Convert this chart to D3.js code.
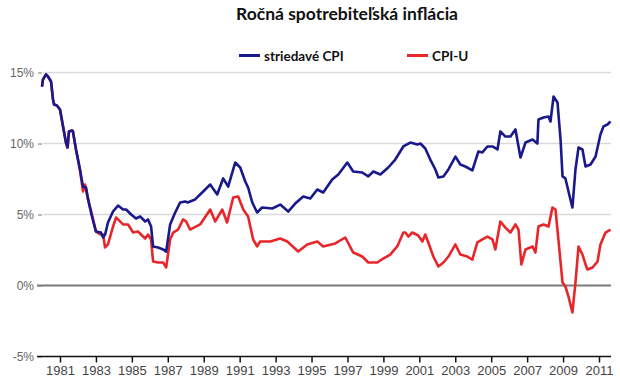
<!DOCTYPE html>
<html>
<head>
<meta charset="utf-8">
<script src="https://cdn.jsdelivr.net/npm/d3@7"></script>
<style>
html,body{margin:0;padding:0;background:#fff;}
svg{display:block;}
</style>
</head>
<body>
<svg id="chart" width="620" height="378"></svg>
<script>
// ---- data ----
const title = "Ročná spotrebiteľská inflácia";
const seriesNames = ["striedavé CPI", "CPI-U"];
const yTicks = [-5, 0, 5, 10, 15];
const xTicks = [1981, 1983, 1985, 1987, 1989, 1991, 1993, 1995, 1997, 1999, 2001, 2003, 2005, 2007, 2009, 2011];

const altYears = [1980.0,1980.05,1980.22,1980.33,1980.5,1980.61,1980.67,1980.83,1981.0,1981.17,1981.33,1981.42,1981.5,1981.67,1981.72,1981.89,1982.11,1982.28,1982.45,1982.56,1982.75,1983.0,1983.28,1983.4,1983.51,1983.67,1983.95,1984.23,1984.51,1984.68,1984.96,1985.23,1985.46,1985.74,1985.9,1986.07,1986.18,1986.46,1986.74,1986.91,1987.13,1987.41,1987.69,1987.96,1988.13,1988.24,1988.52,1988.97,1989.36,1989.75,1990.08,1990.36,1990.75,1991.03,1991.31,1991.47,1991.7,1991.97,1992.25,1992.81,1993.26,1993.7,1994.09,1994.54,1994.93,1995.32,1995.65,1996.15,1996.49,1996.99,1997.32,1997.82,1998.16,1998.44,1998.83,1999.27,1999.66,2000.11,2000.5,2000.89,2001.06,2001.33,2001.61,2001.89,2002.06,2002.34,2002.62,2003.01,2003.28,2003.56,2003.95,2004.29,2004.51,2004.79,2005.07,2005.35,2005.51,2005.79,2006.07,2006.35,2006.63,2006.91,2007.3,2007.57,2007.63,2007.91,2008.19,2008.3,2008.47,2008.69,2008.86,2008.97,2009.13,2009.41,2009.52,2009.69,2009.86,2010.08,2010.25,2010.53,2010.81,2011.08,2011.25,2011.47,2011.64];
const altValues = [14.0,14.5,14.86,14.72,14.37,13.1,12.75,12.68,12.39,11.2,10.07,9.72,10.85,10.92,10.85,9.58,8.17,6.97,6.9,6.1,5.0,3.8,3.73,3.38,3.59,4.44,5.21,5.63,5.35,5.35,5.0,4.72,4.86,4.51,4.65,4.15,2.75,2.68,2.54,2.39,4.3,5.14,5.85,5.92,5.85,5.92,6.06,6.62,7.11,6.41,7.54,6.97,8.66,8.31,7.32,6.9,5.85,5.14,5.49,5.42,5.7,5.21,5.77,6.27,6.13,6.76,6.55,7.46,7.82,8.66,8.03,7.96,7.68,8.03,7.82,8.31,8.87,9.79,10.07,9.93,10.0,9.65,8.87,8.17,7.61,7.68,8.17,9.08,8.52,8.38,8.1,9.44,9.37,9.79,9.79,9.58,10.85,10.49,10.49,10.99,9.01,10.07,10.28,10.0,11.69,11.83,11.9,11.55,13.31,12.89,10.28,7.68,7.54,6.06,5.49,8.17,9.72,9.58,8.38,8.52,9.08,10.63,11.2,11.34,11.55];

const cpiYears = [1980.0,1980.05,1980.22,1980.33,1980.5,1980.61,1980.67,1980.83,1981.0,1981.17,1981.33,1981.42,1981.5,1981.67,1981.72,1981.89,1982.11,1982.28,1982.39,1982.56,1982.78,1983.0,1983.28,1983.4,1983.51,1983.67,1983.95,1984.12,1984.34,1984.51,1984.79,1985.07,1985.35,1985.51,1985.74,1985.9,1986.07,1986.18,1986.46,1986.74,1986.91,1987.13,1987.3,1987.57,1987.85,1988.02,1988.24,1988.8,1989.36,1989.64,1990.03,1990.3,1990.64,1990.92,1991.2,1991.47,1991.75,1991.97,1992.14,1992.7,1993.26,1993.65,1994.26,1994.76,1995.32,1995.65,1996.32,1996.88,1997.32,1997.82,1998.16,1998.66,1998.99,1999.38,1999.77,2000.11,2000.22,2000.39,2000.61,2000.94,2001.17,2001.33,2001.5,2001.78,2002.06,2002.34,2002.62,2003.01,2003.28,2003.67,2003.95,2004.23,2004.51,2004.79,2005.07,2005.23,2005.51,2005.79,2006.07,2006.35,2006.52,2006.68,2006.91,2007.3,2007.46,2007.63,2007.91,2008.19,2008.41,2008.58,2008.74,2008.97,2009.13,2009.3,2009.52,2009.69,2009.86,2010.08,2010.25,2010.36,2010.64,2010.92,2011.08,2011.36,2011.64];
const cpiValues = [14.0,14.5,14.86,14.72,14.37,13.1,12.75,12.68,12.39,11.2,10.07,9.72,10.85,10.92,10.85,9.58,8.17,6.62,7.11,6.06,5.0,3.8,3.59,3.59,2.68,2.89,4.15,4.79,4.51,4.3,4.3,3.73,3.8,3.59,3.31,3.59,3.24,1.69,1.62,1.62,1.27,3.24,3.73,3.94,4.65,4.51,3.94,4.3,5.35,4.51,5.35,4.44,6.2,6.27,5.35,4.86,3.24,2.75,3.1,3.1,3.31,3.1,2.39,2.89,3.1,2.75,2.96,3.38,2.32,2.04,1.62,1.62,1.9,2.18,2.75,3.73,3.73,3.45,3.73,3.52,3.1,3.59,3.03,2.04,1.34,1.62,2.04,2.89,2.18,2.04,1.83,3.03,3.24,3.45,3.24,2.54,4.51,4.08,3.73,4.3,3.94,1.48,2.54,2.75,2.32,4.15,4.3,4.15,5.49,5.35,3.24,0.21,-0.07,-0.77,-1.9,0.21,2.75,2.18,1.48,1.13,1.27,1.69,2.89,3.73,3.94];

const colors = ["#19198c", "#e8262a"];

// ---- chart ----
const svg = d3.select("#chart");
const x = d3.scaleLinear().domain([1981, 2011]).range([60, 599]);
const y = d3.scaleLinear().domain([-5, 15]).range([356.5, 72.5]);
const axisStart = 1979.8, axisEnd = 2011.67;

// title
svg.append("text")
  .attr("x", 347).attr("y", 20)
  .attr("text-anchor", "middle")
  .attr("font-family", "Lato, 'Open Sans', sans-serif")
  .attr("font-weight", 700)
  .attr("font-size", 17.5)
  .attr("fill", "#111")
  .text(title);

// legend
const legendItems = [{name: seriesNames[0], color: colors[0], x: 239}, {name: seriesNames[1], color: colors[1], x: 407}];
const lg = svg.append("g");
legendItems.forEach(d => {
  lg.append("line").attr("x1", d.x).attr("x2", d.x + 21).attr("y1", 55.5).attr("y2", 55.5)
    .attr("stroke", d.color).attr("stroke-width", 3);
  lg.append("text").attr("x", d.x + 25).attr("y", 60.5)
    .attr("font-family", "Lato, 'Open Sans', sans-serif")
    .attr("font-weight", 700).attr("font-size", 13.5).attr("fill", "#111")
    .text(d.name);
});

// grid lines
svg.append("g").selectAll("line").data(yTicks.filter(t => t > 0)).join("line")
  .attr("x1", 43).attr("x2", x(axisEnd))
  .attr("y1", d => y(d)).attr("y2", d => y(d))
  .attr("stroke", "#d9d9d9").attr("stroke-width", 1.5);

// y axis labels & ticks
const yAxis = d3.axisLeft(y).tickValues(yTicks).tickSize(4).tickPadding(4)
  .tickFormat(d => `${d}%`);
const yg = svg.append("g").attr("transform", "translate(42,0)").call(yAxis);
yg.select(".domain").remove();
yg.selectAll(".tick line").attr("stroke", "#777").attr("stroke-width", 1);
yg.selectAll(".tick text").attr("font-family", "'Liberation Sans', Arial, sans-serif")
  .attr("font-size", 12).attr("fill", "#666");

// zero line
svg.append("line").attr("x1", 37).attr("x2", x(axisEnd))
  .attr("y1", y(0)).attr("y2", y(0))
  .attr("stroke", "#7a7a7a").attr("stroke-width", 2);

// x axis
const xAxisScale = x.copy().domain([axisStart, axisEnd]).range([x(axisStart), x(axisEnd)]);
const xAxis = d3.axisBottom(xAxisScale).tickValues(xTicks).tickSize(6).tickSizeOuter(0)
  .tickPadding(3).tickFormat(d3.format("d"));
const xg = svg.append("g").attr("transform", `translate(0,${y(-5)})`).call(xAxis);
xg.select(".domain").attr("stroke", "#111").attr("stroke-width", 1.5)
  .attr("d", `M37,0H${x(axisEnd)}`);
xg.selectAll(".tick line").attr("stroke", "#111").attr("stroke-width", 1.5);
xg.selectAll(".tick text").attr("font-family", "'Liberation Sans', Arial, sans-serif")
  .attr("font-size", 13).attr("fill", "#444");

// lines
const line = d3.line().x(d => x(d[0])).y(d => y(d[1]));
const cpiData = d3.zip(cpiYears, cpiValues);
const altData = d3.zip(altYears, altValues);
svg.append("path").datum(cpiData).attr("d", line)
  .attr("fill", "none").attr("stroke", colors[1]).attr("stroke-width", 2.6)
  .attr("stroke-linejoin", "round");
svg.append("path").datum(altData).attr("d", line)
  .attr("fill", "none").attr("stroke", colors[0]).attr("stroke-width", 2.6)
  .attr("stroke-linejoin", "round");
</script>
</body>
</html>
